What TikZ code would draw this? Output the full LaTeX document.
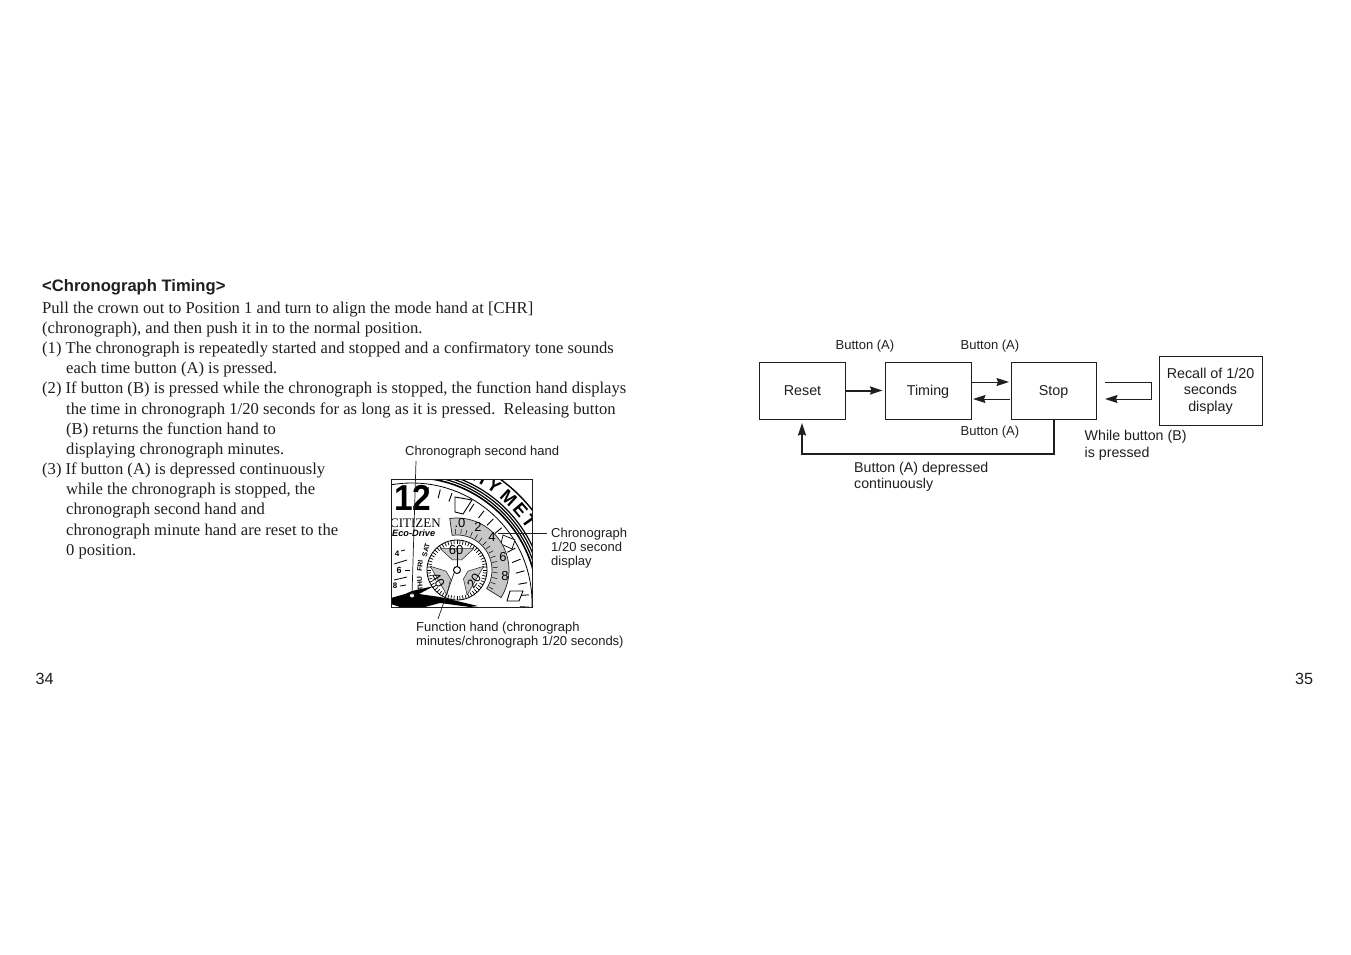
\documentclass[tikz,border=0pt]{standalone}
\usepackage{fontspec}
\setmainfont{Liberation Serif}
\setsansfont{Liberation Sans}
\usetikzlibrary{arrows.meta}
\definecolor{dialgray}{gray}{0.78}
\definecolor{inkblack}{gray}{0.12}
\tikzset{
  bodytext/.style={anchor=base west, inner sep=0pt, font=\fontsize{16.6}{18}\selectfont, text=inkblack},
  labeltext/.style={anchor=base west, inner sep=0pt, font=\sffamily\fontsize{14.2}{16}\selectfont, text=inkblack},
  smalltext/.style={anchor=base west, inner sep=0pt, font=\sffamily\fontsize{13}{14}\selectfont, text=inkblack},
  modebox/.style={draw=inkblack, line width=1pt, inner sep=0pt, font=\sffamily\fontsize{14.3}{16.5}\selectfont, text=inkblack, align=center},
  onelinebox/.style={modebox, text height=11.4pt, text depth=2.4pt},
  thinflow/.style={draw=inkblack, line width=1pt, -{Stealth[inset=1.5pt,length=12.5pt,width=8pt]}},
  thickflow/.style={draw=inkblack, line width=2pt, -{Stealth[inset=1.5pt,length=12.5pt,width=8pt]}},
  leader/.style={draw=inkblack, line width=0.7pt},
  dialtext/.style={inner sep=0pt, font=\sffamily\fontsize{13}{13}\selectfont},
}
\begin{document}
\begin{tikzpicture}[x=1pt,y=-1pt]
  \useasboundingbox[fill=white] (0,0) rectangle (1351,954);

  % Left page text
  \node[anchor=base west, inner sep=0pt, font=\sffamily\bfseries\fontsize{16.6}{18}\selectfont, text=inkblack] (title) at (42,291) {<Chronograph Timing>};
  \node[bodytext] (line1) at (42,313) {Pull the crown out to Position 1 and turn to align the mode hand at [CHR]};
  \node[bodytext] (line2) at (42,333) {(chronograph), and then push it in to the normal position.};
  \node[bodytext] (line3) at (42,353) {(1) The chronograph is repeatedly started and stopped and a confirmatory tone sounds};
  \node[bodytext] (line4) at (66,373) {each time button (A) is pressed.};
  \node[bodytext] (line5) at (42,393) {(2) If button (B) is pressed while the chronograph is stopped, the function hand displays};
  \node[bodytext] (line6) at (66,414) {the time in chronograph 1/20 seconds for as long as it is pressed.\ \ Releasing button};
  \node[bodytext] (line7) at (66,434) {(B) returns the function hand to};
  \node[bodytext] (line8) at (66,454) {displaying chronograph minutes.};
  \node[bodytext] (line9) at (42,474) {(3) If button (A) is depressed continuously};
  \node[bodytext] (line10) at (66,494) {while the chronograph is stopped, the};
  \node[bodytext] (line11) at (66,514.5) {chronograph second hand and};
  \node[bodytext] (line12) at (66,535) {chronograph minute hand are reset to the};
  \node[bodytext] (line13) at (66,555) {0 position.};

  % Page numbers
  \node[anchor=base west, inner sep=0pt, font=\sffamily\fontsize{16.2}{18}\selectfont, text=inkblack] (pageleft) at (35.5,684) {34};
  \node[anchor=base west, inner sep=0pt, font=\sffamily\fontsize{16.2}{18}\selectfont, text=inkblack] (pageright) at (1295,684) {35};

  % Watch face
  \begin{scope}
    \clip (391,479) rectangle (532,607);
    % big dial
    \draw[line width=0.8pt] (412,603) circle (120);
    \draw[line width=1.6pt] (412,603) circle (125.5);
    \draw[line width=1.2pt] (412,603) circle (128);
    \draw[line width=1.2pt] (412,603) circle (130.5);
    \draw[line width=1.2pt] (412,603) circle (133);
    \draw[line width=1.4pt] (412,603) circle (152);
    \foreach \a in {-8,-2,4,10,16,22,28,34,40,46,52,58,64,70,76,82}
      \draw[line width=0.9pt] ({412+cos(\a)*108},{603-sin(\a)*108}) -- ({412+cos(\a)*117},{603-sin(\a)*117});
    % windows on the dial
    \draw[line width=0.9pt, fill=white] (455,497) -- (472,500) -- (463,514) -- (455,512) -- cycle;
    \draw[line width=0.7pt, fill=white] (503,535) -- (515,540) -- (512,549) -- (501,544) -- cycle;
    \draw[line width=0.9pt, fill=white] (510,591) -- (523,591) -- (519,601) -- (507,601) -- cycle;
    % bezel letters
    \foreach \ch/\a in {H/61.6,Y/55,M/47.5,E/40.7,T/35}
      \node[inner sep=0pt, font=\sffamily\bfseries\fontsize{18}{18}\selectfont, rotate={\a-90}] at ({412+cos(\a)*143},{603-sin(\a)*143}) {\ch};
    % 1/20 second sector
    \fill[dialgray, draw=inkblack, line width=0.7pt] ({457+cos(98)*35},{570-sin(98)*35})
      arc[start angle=98, end angle=-32, x radius=35, y radius=-35]
      -- ({457+cos(-32)*52},{570-sin(-32)*52})
      arc[start angle=-32, end angle=98, x radius=52, y radius=-52] -- cycle;
    \foreach \a in {92,84,...,-28}
      \draw[line width=0.5pt] ({457+cos(\a)*36},{570-sin(\a)*36}) -- ({457+cos(\a)*41},{570-sin(\a)*41});
    % subdial
    \fill[white] (457,570) circle (31);
    \draw[line width=0.8pt] (457,570) circle (30);
    \foreach \a in {0,6,...,354}
      \draw[line width=0.7pt] ({457+cos(\a)*26},{570-sin(\a)*26}) -- ({457+cos(\a)*30},{570-sin(\a)*30});
    \foreach \a in {90,210,330}
      \fill[dialgray, draw=inkblack, line width=0.5pt] ({457+cos(\a-38)*27},{570-sin(\a-38)*27})
        -- ({457+cos(\a+38)*27},{570-sin(\a+38)*27})
        -- ({457+cos(\a+24)*11},{570-sin(\a+24)*11})
        -- ({457+cos(\a-24)*11},{570-sin(\a-24)*11}) -- cycle;
    \node[dialtext] (sixty) at (456,550) {60};
    \node[dialtext, rotate=-58] (forty) at (438,580) {40};
    \node[dialtext, rotate=55] (twenty) at (474,581) {20};
    \node[dialtext] (n0) at (460,523.5) {.0};
    \node[dialtext] (n2) at (478,527) {2};
    \node[dialtext] (n4) at (492,537) {4};
    \node[dialtext] (n6) at (503,557) {6};
    \node[dialtext] (n8) at (505,576) {8};
    % subdial hand
    \draw[line width=1pt] (457,570) circle (3.5);
    \draw[line width=1pt] (457,566) -- (457,546);
    % printed name
    \node[anchor=base west, inner sep=0pt, font=\fontsize{13}{14}\selectfont] (citizen) at (390,527) {CITIZEN};
    \node[anchor=base west, inner sep=0pt, font=\sffamily\bfseries\itshape\fontsize{9.2}{9}\selectfont] (ecodrive) at (392,536) {Eco-Drive};
    \node[anchor=base west, inner sep=0pt, font=\sffamily\bfseries\fontsize{36}{36}\selectfont, xscale=0.93] (twelve) at (394,510) {12};
    % day ring and left numerals
    \node[inner sep=0pt, font=\sffamily\bfseries\fontsize{7}{8}\selectfont, rotate=75] (sat) at (426,550) {SAT};
    \node[inner sep=0pt, font=\sffamily\bfseries\fontsize{7}{8}\selectfont, rotate=85] (fri) at (420,566) {FRI};
    \node[inner sep=0pt, font=\sffamily\bfseries\fontsize{7}{8}\selectfont, rotate=95] (thu) at (420,584) {THU};
    \node[inner sep=0pt, font=\sffamily\bfseries\fontsize{8}{8}\selectfont] (d4) at (397,554) {4};
    \node[inner sep=0pt, font=\sffamily\bfseries\fontsize{9}{9}\selectfont] (d6) at (399,570) {6};
    \node[inner sep=0pt, font=\sffamily\bfseries\fontsize{8}{8}\selectfont] (d8) at (395,586) {8};
    \draw[line width=0.8pt] (394,564) -- (407,560);
    \draw[line width=0.8pt] (394,580) -- (407,577);
    \draw[line width=0.8pt] (401,551) -- (405,550);
    \draw[line width=0.8pt] (405,570) -- (410,570);
    \draw[line width=0.8pt] (400,586) -- (406,585);
    % main hands
    \fill (391,598) -- (405,594) -- (412,591) -- (434,586) -- (419,594) -- (440,597) -- (478,606) -- (470,607) -- (440,603) -- (425,607) -- (400,607) -- (391,604) -- cycle;
    \fill[white] (412,595.5) circle (2.5);
    \draw[line width=0.7pt] (412,595.5) circle (2.5);
  \end{scope}
  \draw[line width=0.9pt, draw=inkblack] (391,479) rectangle (532,607);

  % Watch labels
  \node[smalltext] (secondhand) at (405,455) {Chronograph second hand};
  \node[smalltext] (disp1) at (551,537) {Chronograph};
  \node[smalltext] (disp2) at (551,551) {1/20 second};
  \node[smalltext] (disp3) at (551,565) {display};
  \node[smalltext] (func1) at (416,631) {Function hand (chronograph};
  \node[smalltext] (func2) at (416,645) {minutes/chronograph 1/20 seconds)};
  \coordinate (secondtop) at (416,461);
  \coordinate (secondend) at (412,595);
  \coordinate (disptip) at (498,533);
  \coordinate (dispend) at (547,533);
  \coordinate (functop) at (454,573);
  \coordinate (funcend) at (438,619);
  \draw[leader] (secondtop) -- (secondend);
  \draw[leader] (disptip) -- (dispend);
  \draw[leader] (functop) -- (funcend);

  % Right page flow
  \node[onelinebox, minimum width=86pt, minimum height=57pt] (reset) at (802.5,390.5) {Reset};
  \node[onelinebox, minimum width=86pt, minimum height=57pt] (timing) at (928,390.5) {Timing};
  \node[onelinebox, minimum width=85pt, minimum height=57pt] (stop) at (1053.5,390.5) {Stop};
  \node[modebox, minimum width=103pt, minimum height=69pt] (recall) at (1210.5,390.5) {\raisebox{0pt}[11pt][2pt]{Recall of 1/20}\\seconds\\display};

  \coordinate (tostopa) at (timing.east |- 0,382);
  \coordinate (tostopb) at (1009,382);
  \coordinate (totima) at (1010,399);
  \coordinate (totimb) at (973,399);
  \coordinate (loopa) at (1105,382);
  \coordinate (loopb) at (1151,382);
  \coordinate (loopc) at (1151,399);
  \coordinate (loopd) at (1105,399);
  \coordinate (backa) at (1054,454);
  \coordinate (backb) at (802,454);
  \coordinate (backc) at (802,423);
  \coordinate (resettip) at (882.5,390.5);

  \draw[thickflow] (reset.east) -- (resettip);
  \draw[thinflow] (tostopa) -- (tostopb);
  \draw[thinflow] (totima) -- (totimb);
  \draw[thinflow] (loopa) -- (loopb) -- (loopc) -- (loopd);
  \draw[thickflow] (stop.south -| backa) -- (backa) -- (backb) -- (backc);

  \node[smalltext] (lab1) at (835.5,349) {Button (A)};
  \node[smalltext] (lab2) at (960.5,349) {Button (A)};
  \node[smalltext] (lab3) at (960.5,435) {Button (A)};
  \node[labeltext] (lab4) at (854,472) {Button (A) depressed};
  \node[labeltext] (lab5) at (854,488) {continuously};
  \node[labeltext] (lab6) at (1084.5,440) {While button (B)};
  \node[labeltext] (lab7) at (1084.5,457) {is pressed};
\end{tikzpicture}
\end{document}
